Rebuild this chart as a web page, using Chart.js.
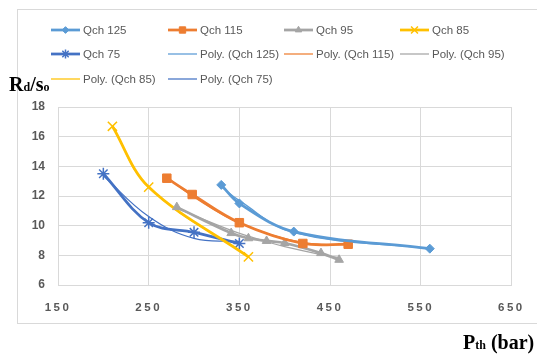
<!DOCTYPE html>
<html>
<head>
<meta charset="utf-8">
<script src="https://cdn.jsdelivr.net/npm/chart.js@4.4.1/dist/chart.umd.min.js"></script>
<style>
  body { margin: 0; background: #fff; }
  #wrap { position: relative; width: 537px; height: 354px; overflow: hidden; }
  #frame { position: absolute; left: 17px; top: 9px; width: 560px; height: 313px; border: 1px solid #d9d9d9; }
  canvas { position: absolute; left: 0; top: 0; }
  .ttl { position: absolute; font-family: "Liberation Serif", serif; font-weight: bold; font-size: 20px; line-height: 20px; color: #000; white-space: nowrap; }
  .ttl span { font-size: 12px; }
</style>
</head>
<body>
<div id="wrap">
  <div id="frame"></div>
  <canvas id="myChart" width="537" height="354"></canvas>
  <div class="ttl" style="left:9px; top:74px;">R<span>d</span>/s<span>o</span></div>
  <div class="ttl" style="left:463px; top:332px;">P<span>th</span> (bar)</div>
</div>
<script>
// values
const qch125X = [330, 350, 410, 560];
const qch125Y = [12.75, 11.5, 9.6, 8.45];
const qch115X = [270, 298, 350, 420, 470];
const qch115Y = [13.2, 12.1, 10.2, 8.8, 8.75];
const qch95X = [281, 341, 360, 380, 400, 440, 460];
const qch95Y = [11.25, 9.5, 9.15, 8.97, 8.83, 8.15, 7.7];
const qch85X = [210, 250, 360];
const qch85Y = [16.7, 12.6, 7.9];
const qch75X = [200, 250, 300, 350];
const qch75Y = [13.5, 10.2, 9.55, 8.8];

const xTicks = [150, 250, 350, 450, 550, 650];
const yTicks = [6, 8, 10, 12, 14, 16, 18];

// legend grid (Excel style)
const legendCols = [51, 168, 284, 400];
const legendRows = [30, 54, 79];

// 2nd order least squares, like Excel's Poly. trendline
function polyFit2(xs, ys) {
  let s = [0, 0, 0, 0, 0], t = [0, 0, 0];
  xs.forEach((x, i) => {
    for (let k = 0; k < 5; k++) s[k] += Math.pow(x, k);
    for (let k = 0; k < 3; k++) t[k] += ys[i] * Math.pow(x, k);
  });
  const m = [[s[0], s[1], s[2], t[0]], [s[1], s[2], s[3], t[1]], [s[2], s[3], s[4], t[2]]];
  for (let c = 0; c < 3; c++) {
    for (let r = c + 1; r < 3; r++) {
      const f = m[r][c] / m[c][c];
      for (let k = c; k < 4; k++) m[r][k] -= f * m[c][k];
    }
  }
  const a = [0, 0, 0];
  for (let r = 2; r >= 0; r--) {
    let v = m[r][3];
    for (let k = r + 1; k < 3; k++) v -= m[r][k] * a[k];
    a[r] = v / m[r][r];
  }
  return x => a[0] + a[1] * x + a[2] * x * x;
}

function pts(xs, ys) { return xs.map((x, i) => ({ x: x, y: ys[i] })); }

function series(label, xs, ys, color, style, radius, filled) {
  return {
    label: label, data: pts(xs, ys),
    borderColor: color, backgroundColor: color, borderWidth: 2.75,
    pointStyle: style, pointRadius: radius, pointHoverRadius: radius,
    pointBackgroundColor: filled ? color : 'rgba(0,0,0,0)', pointBorderColor: color,
    pointBorderWidth: filled ? 1 : 1.5,
    tension: 0.35, order: 1
  };
}

function trend(label, xs, ys, color) {
  const f = polyFit2(xs, ys);
  return {
    label: label, data: xs.map(x => ({ x: x, y: f(x) })),
    borderColor: color, backgroundColor: color, borderWidth: 1.25,
    pointRadius: 0, tension: 0.4, order: 2
  };
}

const datasets = [
  series('Qch 125', qch125X, qch125Y, '#5B9BD5', 'rectRot', 4.5, true),
  series('Qch 115', qch115X, qch115Y, '#ED7D31', 'rect', 6, true),
  series('Qch 95', qch95X, qch95Y, '#A5A5A5', 'triangle', 5, true),
  series('Qch 85', qch85X, qch85Y, '#FFC000', 'crossRot', 6.5, false),
  series('Qch 75', qch75X, qch75Y, '#4472C4', 'star', 6, false),
  trend('Poly. (Qch 125)', qch125X, qch125Y, '#5B9BD5'),
  trend('Poly. (Qch 115)', qch115X, qch115Y, '#ED7D31'),
  trend('Poly. (Qch 95)', qch95X, qch95Y, '#A5A5A5'),
  trend('Poly. (Qch 85)', qch85X, qch85Y, '#FFC000'),
  trend('Poly. (Qch 75)', qch75X, qch75Y, '#4472C4')
];

const gridLegend = {
  id: 'gridLegend',
  afterDraw(chart) {
    const ctx = chart.ctx;
    chart.data.datasets.forEach((ds, i) => {
      const x = legendCols[i % 4], y = legendRows[Math.floor(i / 4)];
      ctx.save();
      ctx.strokeStyle = ds.borderColor;
      ctx.lineWidth = ds.borderWidth;
      ctx.beginPath();
      ctx.moveTo(x, y);
      ctx.lineTo(x + 29, y);
      ctx.stroke();
      if (ds.pointRadius > 0) {
        ctx.fillStyle = ds.pointBackgroundColor;
        ctx.strokeStyle = ds.pointBorderColor;
        ctx.lineWidth = ds.pointBorderWidth;
        Chart.helpers.drawPoint(ctx, { pointStyle: ds.pointStyle, radius: ds.pointRadius * 0.75, rotation: 0, borderWidth: ds.pointBorderWidth }, x + 14.5, y);
      }
      ctx.fillStyle = '#595959';
      ctx.font = '11.5px "Liberation Sans", Arial, sans-serif';
      ctx.textBaseline = 'middle';
      ctx.textAlign = 'left';
      ctx.fillText(ds.label, x + 32, y + 1);
      ctx.restore();
    });
  }
};

// spaced-out x tick labels
const spacedX = {
  id: 'spacedX',
  beforeDraw(chart) {
    const sc = chart.scales.x;
    if (sc._spaced) return;
    const orig = sc.drawLabels;
    sc.drawLabels = function (area) {
      const c = this.ctx;
      c.save();
      c.letterSpacing = '2.5px';
      orig.call(this, area);
      c.restore();
    };
    sc._spaced = true;
  }
};

const ctx = document.getElementById('myChart').getContext('2d');
const myChart = new Chart(ctx, {
  type: 'line',
  data: { datasets: datasets },
  plugins: [gridLegend, spacedX],
  options: {
    responsive: false,
    animation: false,
    layout: { padding: { top: 107, right: 24, bottom: 31, left: 0 } },
    plugins: { legend: { display: false }, tooltip: { enabled: false } },
    scales: {
      x: {
        type: 'linear', min: 150, max: 650,
        afterBuildTicks: s => { s.ticks = xTicks.map(v => ({ value: v })); },
        afterFit: s => { s.height = 38; },
        grid: { color: '#d9d9d9', drawTicks: false },
        border: { color: '#d9d9d9' },
        ticks: { padding: 16, color: '#595959', font: { family: '"Liberation Sans", Arial', size: 11.5, weight: 'bold' } }
      },
      y: {
        min: 6, max: 18,
        afterBuildTicks: s => { s.ticks = yTicks.map(v => ({ value: v })); },
        afterFit: s => { s.width = 58; },
        grid: { color: '#d9d9d9', drawTicks: false },
        border: { color: '#d9d9d9' },
        ticks: { padding: 13, color: '#595959', font: { family: '"Liberation Sans", Arial', size: 12, weight: 'bold' } }
      }
    }
  }
});
</script>
</body>
</html>
